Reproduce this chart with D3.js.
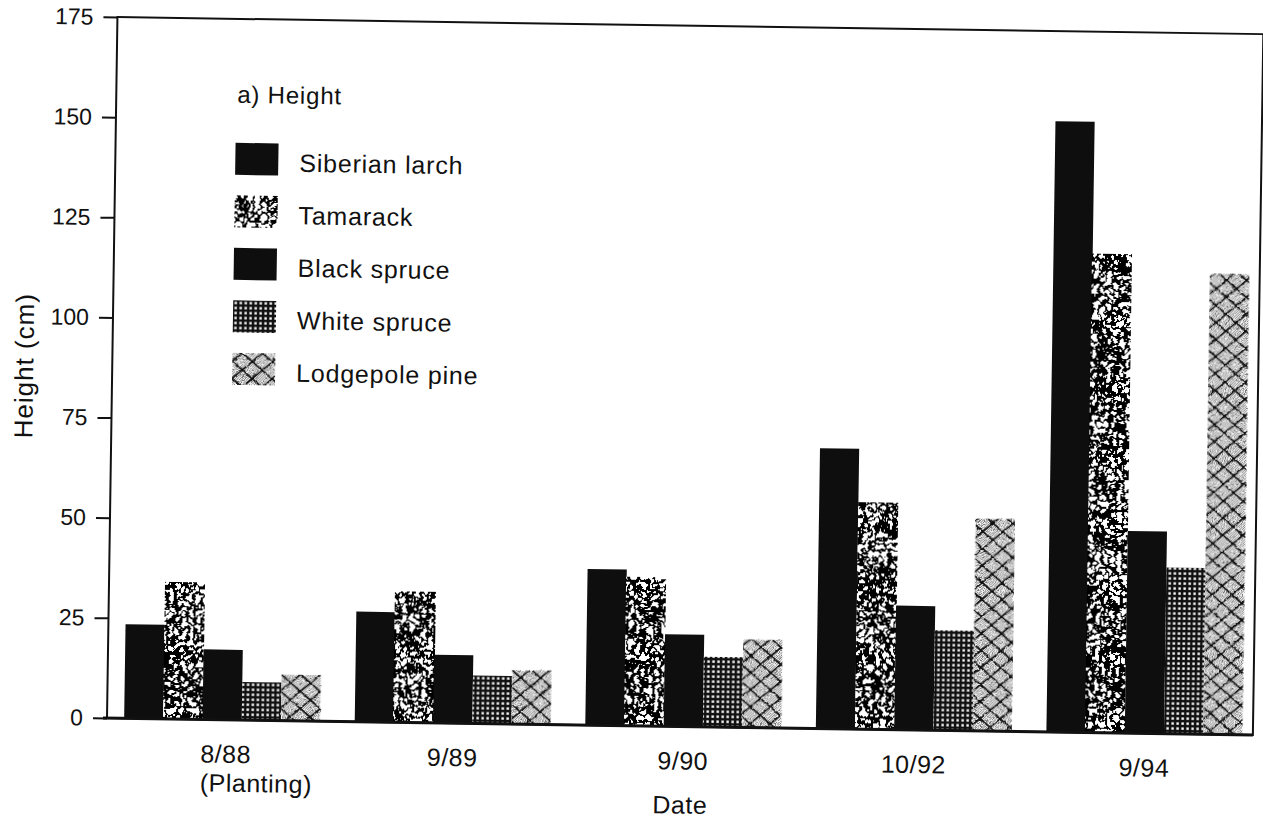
<!DOCTYPE html>
<html>
<head>
<meta charset="utf-8">
<script src="https://cdn.jsdelivr.net/npm/d3@7"></script>
<style>
  html, body { margin: 0; padding: 0; background: #fff; }
  svg { display: block; }
  text { font-family: "Liberation Sans", Arial, Helvetica, sans-serif; fill: #111; }
</style>
</head>
<body>
<script>
// Dates of measurement (x categories)
const categories = ["8/88\n(Planting)", "9/89", "9/90", "10/92", "9/94"];
// Species (series)
const series = ["Siberian larch", "Tamarack", "Black spruce", "White spruce", "Lodgepole pine"];
// Mean height (cm) per species at each date
const siberianLarch = [23.5, 27.5, 39, 70, 152.5];
const tamarack      = [34, 32.5, 37, 56.5, 119.5];
const blackSpruce   = [17.5, 17, 23, 31, 50.5];
const whiteSpruce   = [9.5, 12, 17.5, 25, 41.5];
const lodgepolePine = [11.5, 13.5, 22, 53, 115];
// Y axis tick values
const yTicks = [0, 25, 50, 75, 100, 125, 150, 175];

const chartTitle = "a) Height";
const yTitle = "Height (cm)";
const xTitle = "Date";

const valuesBySeries = [siberianLarch, tamarack, blackSpruce, whiteSpruce, lodgepolePine];

const W = 1263, H = 820;
const plotLeft = 107, plotRight = 1253, plotTop = 17, plotBottom = 718;

const svg = d3.select("body").append("svg").attr("width", W).attr("height", H);
const defs = svg.append("defs");

// --- fills ---------------------------------------------------------------
// Tamarack: worm-like squiggles from a band of noise values
const bandTable = d3.range(25).map(i => (i >= 10 && i <= 14) ? 1 : 0).join(" ");
const worm = defs.append("filter").attr("id", "worm")
  .attr("filterUnits", "objectBoundingBox")
  .attr("x", 0).attr("y", 0).attr("width", 1).attr("height", 1)
  .attr("color-interpolation-filters", "sRGB");
worm.append("feTurbulence").attr("type", "fractalNoise")
  .attr("baseFrequency", 0.15).attr("numOctaves", 3).attr("seed", 4).attr("result", "noise");
worm.append("feColorMatrix").attr("in", "noise").attr("type", "matrix")
  .attr("values", "0 0 0 0 0  0 0 0 0 0  0 0 0 0 0  1 0 0 0 0").attr("result", "ra");
worm.append("feComponentTransfer").attr("in", "ra").attr("result", "ink")
  .append("feFuncA").attr("type", "discrete").attr("tableValues", bandTable);
worm.append("feFlood").attr("flood-color", "#fff").attr("result", "paper");
const wm = worm.append("feMerge");
wm.append("feMergeNode").attr("in", "paper");
wm.append("feMergeNode").attr("in", "ink");

// White spruce: black grid with small white cells
const grid = defs.append("pattern").attr("id", "grid")
  .attr("patternUnits", "userSpaceOnUse").attr("width", 5).attr("height", 5);
grid.append("rect").attr("width", 5).attr("height", 5).attr("fill", "#111");
grid.append("rect").attr("x", 1.4).attr("y", 1.4).attr("width", 2.4).attr("height", 2.4).attr("fill", "#fff");

// Lodgepole pine: fine hatching with a diamond lattice
const lat = defs.append("pattern").attr("id", "lattice")
  .attr("patternUnits", "userSpaceOnUse").attr("width", 20).attr("height", 17);
lat.append("rect").attr("width", 20).attr("height", 17).attr("fill", "#eeeeee");
for (let k = -20; k <= 40; k += 2.5) {
  lat.append("line").attr("x1", k).attr("y1", 17).attr("x2", k + 17).attr("y2", 0)
    .attr("stroke", "#6a6a6a").attr("stroke-width", 0.9);
}
lat.append("path").attr("d", "M0,8.5 L10,0 L20,8.5 L10,17 Z M0,8.5 L-10,17 M20,8.5 L30,0")
  .attr("fill", "none").attr("stroke", "#111").attr("stroke-width", 1.8);

// roughen the lattice a little like printed ink
const rough = defs.append("filter").attr("id", "rough")
  .attr("filterUnits", "objectBoundingBox").attr("x", 0).attr("y", 0).attr("width", 1).attr("height", 1);
rough.append("feTurbulence").attr("type", "fractalNoise").attr("baseFrequency", 0.3)
  .attr("numOctaves", 1).attr("seed", 2).attr("result", "t");
rough.append("feDisplacementMap").attr("in", "SourceGraphic").attr("in2", "t")
  .attr("scale", 3).attr("xChannelSelector", "R").attr("yChannelSelector", "G");

const fillOf = {
  "Siberian larch": "#0e0e0e",
  "Tamarack": "#fff",
  "Black spruce": "#0e0e0e",
  "White spruce": "url(#grid)",
  "Lodgepole pine": "url(#lattice)"
};
const filterOf = {
  "Tamarack": "url(#worm)",
  "Lodgepole pine": "url(#rough)"
};

// The whole figure sits slightly tilted on the page
const g = svg.append("g").attr("transform", `rotate(0.853, ${plotLeft}, ${plotBottom})`);

// --- scales --------------------------------------------------------------
const x0 = d3.scaleBand().domain(categories).range([plotLeft, plotRight])
  .paddingInner(0.15).paddingOuter(0.06).align(0.62);
const x1 = d3.scaleBand().domain(series).range([0, x0.bandwidth()]);
const y = d3.scaleLinear().domain([0, 175]).range([plotBottom, plotTop]);

// --- bars ----------------------------------------------------------------
const barData = [];
categories.forEach((c, ci) => {
  series.forEach((s, si) => barData.push({ c, s, v: valuesBySeries[si][ci] }));
});

g.append("g").selectAll("rect").data(barData).join("rect")
  .attr("x", d => x0(d.c) + x1(d.s))
  .attr("y", d => y(d.v))
  .attr("width", x1.bandwidth())
  .attr("height", d => y(0) - y(d.v))
  .attr("fill", d => fillOf[d.s])
  .attr("filter", d => filterOf[d.s] || null);

// --- frame & axes --------------------------------------------------------
g.append("rect").attr("x", plotLeft).attr("y", plotTop)
  .attr("width", plotRight - plotLeft).attr("height", plotBottom - plotTop)
  .attr("fill", "none").attr("stroke", "#111").attr("stroke-width", 2);
g.append("line").attr("x1", plotLeft - 4).attr("x2", plotRight).attr("y1", plotBottom).attr("y2", plotBottom)
  .attr("stroke", "#111").attr("stroke-width", 3);

const yAxis = g.append("g").attr("transform", `translate(${plotLeft},0)`)
  .call(d3.axisLeft(y).tickValues(yTicks).tickSize(14).tickPadding(10));
yAxis.select(".domain").remove();
yAxis.selectAll(".tick line").attr("stroke", "#111").attr("stroke-width", 2);
yAxis.selectAll(".tick text").style("font-size", "23px").attr("fill", "#111");

const xAxis = g.append("g").attr("transform", `translate(0,${plotBottom})`)
  .call(d3.axisBottom(x0).tickSize(0).tickPadding(0));
xAxis.select(".domain").remove();
xAxis.selectAll(".tick text").each(function (d) {
  const t = d3.select(this);
  const lines = d.split("\n");
  t.text(null).attr("dy", null).attr("y", 43)
    .style("font-size", "25px").style("letter-spacing", "0.5px").attr("fill", "#111");
  if (lines.length === 1) {
    t.text(lines[0]);
  } else {
    const first = t.append("tspan").text(lines[0]);
    const w = first.node().getComputedTextLength();
    t.attr("text-anchor", "start");
    first.attr("x", -w / 2 + 4);
    lines.slice(1).forEach(l => t.append("tspan").attr("x", -w / 2 + 4).attr("dy", 29).text(l));
  }
});

// --- titles --------------------------------------------------------------
g.append("text").attr("x", 681).attr("y", 805).attr("text-anchor", "middle")
  .style("font-size", "25px").style("letter-spacing", "0.5px").text(xTitle);
g.append("text").attr("transform", "translate(28,367) rotate(-90)").attr("text-anchor", "middle")
  .style("font-size", "26px").style("letter-spacing", "1px").text(yTitle);
g.append("text").attr("x", 228).attr("y", 101)
  .style("font-size", "24px").style("letter-spacing", "0.8px").text(chartTitle);

// --- legend --------------------------------------------------------------
const legend = g.append("g").attr("transform", "translate(227,141)");
const rowH = 52.5;
const item = legend.selectAll("g").data(series).join("g")
  .attr("transform", (d, i) => `translate(0,${i * rowH})`);
item.append("rect").attr("width", 43).attr("height", 32)
  .attr("fill", d => fillOf[d]).attr("filter", d => filterOf[d] || null);
item.append("text").attr("x", 64).attr("y", 28)
  .style("font-size", "25px").style("letter-spacing", "0.8px").text(d => d);
</script>
</body>
</html>
